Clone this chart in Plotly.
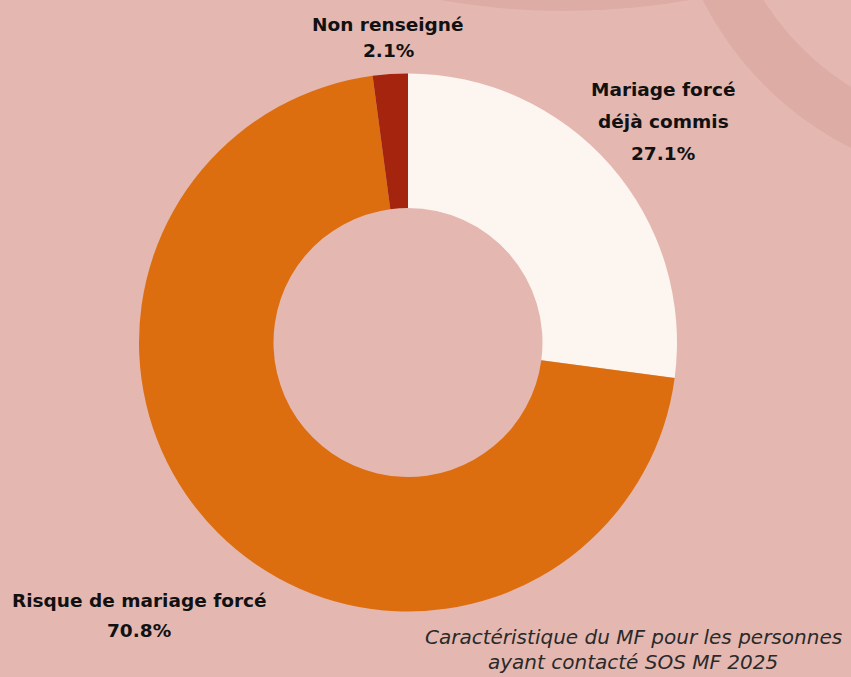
import plotly.graph_objects as go

W, H = 851, 677

categories = ["Mariage forcé déjà commis", "Risque de mariage forcé", "Non renseigné"]
values = [27.1, 70.8, 2.1]
colors = ["#fdf5ef", "#dc6e10", "#a4240e"]
label_lines = [["Mariage forcé", "déjà commis"], ["Risque de mariage forcé"], ["Non renseigné"]]
caption_lines = ["Caractéristique du MF pour les personnes", "ayant contacté SOS MF 2025"]

BG = "#e4b8b1"
BAND = "#dcaca5"


def px(x):
    return x / W


def py(y):
    return 1 - y / H


def circle(cx, cy, r, color):
    return dict(type="circle", xref="paper", yref="paper",
                x0=px(cx - r), x1=px(cx + r), y0=py(cy + r), y1=py(cy - r),
                fillcolor=color, line=dict(width=0), layer="below")


cx, cy, R = 408, 342.5, 269

fig = go.Figure(go.Pie(
    labels=categories,
    values=values,
    hole=0.5,
    sort=False,
    direction="clockwise",
    rotation=0,
    marker=dict(colors=colors, line=dict(width=0)),
    textinfo="none",
    hoverinfo="label+percent",
    showlegend=False,
    domain=dict(x=[px(cx - R), px(cx + R)], y=[py(cy + R), py(cy - R)]),
))

shapes = [
    circle(565, -705, 716, BAND),
    circle(1000, -150, 333, BAND),
    circle(1000, -150, 280, BG),
]

font_b = dict(family="DejaVu Sans", size=18.5, color="#111111")
annotations = []
# label positions (centre x, first line y, line spacing) per category
label_pos = [(663, 90, 31.5), (139, 600, 30), (388, 24, 27)]
for i, (lines, (lx, ly, dy)) in enumerate(zip(label_lines, label_pos)):
    all_lines = lines + [f"{values[i]:.1f}%"]
    for k, t in enumerate(all_lines):
        annotations.append(dict(x=px(lx), y=py(ly + k * dy), xref="paper", yref="paper",
                                text=f"<b>{t}</b>", showarrow=False, font=font_b,
                                xanchor="center", yanchor="middle"))

for k, t in enumerate(caption_lines):
    annotations.append(dict(x=px(633), y=py(637 + k * 25), xref="paper", yref="paper",
                            text=f"<i>{t}</i>", showarrow=False,
                            font=dict(family="DejaVu Sans", size=20, color="#2a2a2a"),
                            xanchor="center", yanchor="middle"))

fig.update_layout(
    width=W, height=H,
    margin=dict(l=0, r=0, t=0, b=0),
    paper_bgcolor=BG, plot_bgcolor=BG,
    shapes=shapes,
    annotations=annotations,
)

fig.write_html("out.html", config={"displayModeBar": False},
               post_script="document.body.style.margin='0';document.body.style.overflow='hidden';")
